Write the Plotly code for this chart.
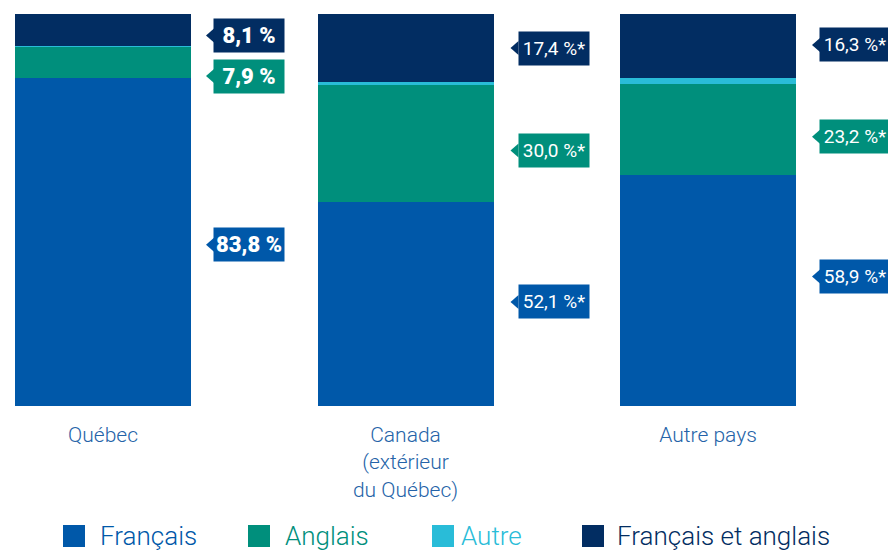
import plotly.graph_objects as go

# ---- data ----
categories = ["Québec", "Canada<br>(extérieur<br>du Québec)", "Autre pays"]
series_names = ["Français", "Anglais", "Autre", "Français et anglais"]
francais = [83.8, 52.1, 58.9]
anglais = [7.9, 30.0, 23.2]
autre = [0.2, 0.5, 1.6]
fr_en = [8.1, 17.4, 16.3]
label_texts = {
    "Français": ["83,8 %", "52,1 %*", "58,9 %*"],
    "Anglais": ["7,9 %", "30,0 %*", "23,2 %*"],
    "Français et anglais": ["8,1 %", "17,4 %*", "16,3 %*"],
}

# ---- styles ----
colors = {
    "Français": "#0058A9",
    "Anglais": "#008F7C",
    "Autre": "#29BCD8",
    "Français et anglais": "#022D62",
}
W, H = 888, 550
MT = 14
MB = H - 406
ML, MR = 0, 0
PX_PER_UNIT = 302.5
BAR_W = 176 / PX_PER_UNIT
x0 = -BAR_W / 2 - 15 / PX_PER_UNIT
x1 = x0 + W / PX_PER_UNIT
FONT = "Roboto, 'Noto Sans', sans-serif"
# vertical pixel nudges for labels (positive = up)
nudges = {
    "Français": [-3, 2, 14],
    "Anglais": [-14, -7.5, -7],
    "Français et anglais": [-5.5, 0, 1],
}
box_dx = [22, 24, 23]

values = {
    "Français": francais,
    "Anglais": anglais,
    "Autre": autre,
    "Français et anglais": fr_en,
}
xs = list(range(len(categories)))

fig = go.Figure()
for name in series_names:
    fig.add_trace(go.Bar(
        x=xs, y=values[name], name=name, width=BAR_W,
        marker=dict(color=colors[name], line=dict(width=0)),
        showlegend=False, hoverinfo="skip",
    ))

annotations = []
shapes = []
for name in ["Français", "Anglais", "Français et anglais"]:
    for i in xs:
        base = sum(values[s][i] for s in series_names[:series_names.index(name)])
        yc = base + values[name][i] / 2
        s = nudges[name][i]
        xr = i + BAR_W / 2
        bold = (i == 0)
        annotations.append(dict(
            x=xr, y=yc, xref="x", yref="y", xanchor="left", yanchor="middle",
            xshift=box_dx[i], yshift=s, showarrow=False,
            text=label_texts[name][i],
            font=dict(family=FONT, size=22 if bold else 19, color="white",
                      weight=900 if bold else 400),
            bgcolor=colors[name], width=70, height=33, borderpad=0,
            align="center", valign="middle",
        ))
        tip = box_dx[i] - 7
        shapes.append(dict(
            type="path", xref="x", yref="y", xsizemode="pixel", ysizemode="pixel",
            xanchor=xr, yanchor=yc,
            path="M %g %g L %g %g L %g %g Z" % (tip, s, box_dx[i] + 1, s + 7, box_dx[i] + 1, s - 7),
            fillcolor=colors[name], line=dict(width=0),
        ))

# manual legend (reference pixel positions)
plot_h = H - MT - MB
def ypaper(py):
    return (H - MB - py) / plot_h
def xpaper(px):
    return px / W

legend_pos = [(63, 98), (248, 283), (432, 459), (582, 615)]
for name, (sx, tx) in zip(series_names, legend_pos):
    shapes.append(dict(
        type="rect", xref="paper", yref="paper",
        x0=xpaper(sx), x1=xpaper(sx + 22), y0=ypaper(547), y1=ypaper(525),
        fillcolor=colors[name], line=dict(width=0),
    ))
    annotations.append(dict(
        x=xpaper(tx), y=ypaper(536), xref="paper", yref="paper",
        xanchor="left", yanchor="middle", showarrow=False, text=name,
        font=dict(family=FONT, size=26, color=colors[name], weight=300),
    ))

fig.update_layout(
    barmode="stack",
    width=W, height=H,
    margin=dict(l=ML, r=MR, t=MT, b=MB),
    paper_bgcolor="white", plot_bgcolor="white",
    xaxis=dict(
        range=[x0, x1], tickvals=xs, ticktext=categories,
        showgrid=False, zeroline=False, showline=False, ticks="",
        ticklabelstandoff=14,
        tickfont=dict(family=FONT, size=21, color="#2563A8", weight=300),
        fixedrange=True,
    ),
    yaxis=dict(range=[0, 100], visible=False, fixedrange=True),
    annotations=annotations,
    shapes=shapes,
)

fig.write_html(
    "out.html",
    config={"displayModeBar": False},
    post_script="document.body.style.margin='0';document.body.style.overflow='hidden';",
)
